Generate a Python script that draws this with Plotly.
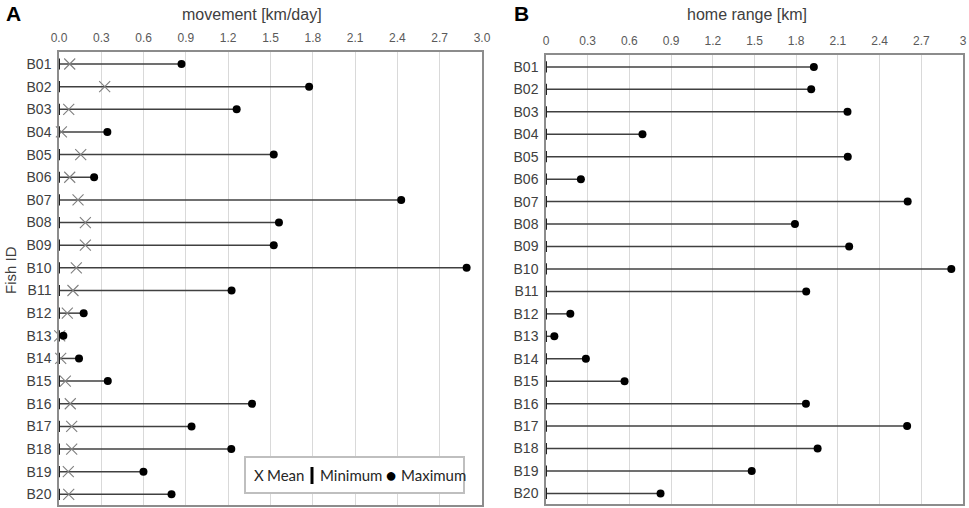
import plotly.graph_objects as go

fish = ["B%02d" % i for i in range(1, 21)]

# panel A: movement [km/day]
move_min = [0.0] * 20
move_mean = [0.076, 0.324, 0.069, 0.017, 0.154, 0.076, 0.135, 0.187, 0.187, 0.123,
             0.099, 0.059, 0.005, 0.012, 0.045, 0.080, 0.090, 0.090, 0.066, 0.069]
move_max = [0.869, 1.774, 1.260, 0.343, 1.523, 0.249, 2.427, 1.560, 1.523, 2.891,
            1.224, 0.175, 0.031, 0.142, 0.346, 1.369, 0.940, 1.222, 0.599, 0.798]

# panel B: home range [km]
hr_min = [0.0] * 20
hr_max = [1.927, 1.908, 2.169, 0.694, 2.171, 0.251, 2.602, 1.791, 2.181, 2.916,
          1.872, 0.175, 0.060, 0.287, 0.565, 1.870, 2.598, 1.954, 1.480, 0.824]

W, H = 969, 508
FONT = "Liberation Sans, Arial, sans-serif"
LEG_FONT = "Lato, Open Sans, sans-serif"
LINE_COL = "#404040"


def seg(lo, hi):
    xs, ys = [], []
    for a, b, f in zip(lo, hi, fish):
        xs += [a, b, None]
        ys += [f, f, None]
    return xs, ys


fig = go.Figure()

# panel A
xs, ys = seg(move_min, move_max)
fig.add_trace(go.Scatter(x=xs, y=ys, mode="lines", line=dict(color=LINE_COL, width=1.5),
                         hoverinfo="skip", xaxis="x", yaxis="y"))
fig.add_trace(go.Scatter(x=move_mean, y=fish, mode="markers", name="Mean", cliponaxis=False,
                         marker=dict(symbol="x-thin", size=11, line=dict(color="#808080", width=1.1)),
                         xaxis="x", yaxis="y"))
fig.add_trace(go.Scatter(x=move_min, y=fish, mode="markers", name="Minimum", cliponaxis=False,
                         marker=dict(symbol="line-ns", size=8, line=dict(color="#202020", width=2)),
                         xaxis="x", yaxis="y"))
fig.add_trace(go.Scatter(x=move_max, y=fish, mode="markers", name="Maximum", cliponaxis=False,
                         marker=dict(symbol="circle", size=8, color="black"),
                         xaxis="x", yaxis="y"))

# panel B
xs, ys = seg(hr_min, hr_max)
fig.add_trace(go.Scatter(x=xs, y=ys, mode="lines", line=dict(color=LINE_COL, width=1.5),
                         hoverinfo="skip", xaxis="x2", yaxis="y2"))
fig.add_trace(go.Scatter(x=hr_min, y=fish, mode="markers", cliponaxis=False,
                         marker=dict(symbol="line-ns", size=8, line=dict(color="#202020", width=2)),
                         xaxis="x2", yaxis="y2"))
fig.add_trace(go.Scatter(x=hr_max, y=fish, mode="markers", cliponaxis=False,
                         marker=dict(symbol="circle", size=8, color="black"),
                         xaxis="x2", yaxis="y2"))

xcommon = dict(side="top", showgrid=True, gridcolor="#d9d9d9", gridwidth=1,
               showline=True, linecolor="#8c8c8c", linewidth=1.5, mirror=True,
               zeroline=False, ticks="", automargin=False, ticklabelstandoff=3,
               tickfont=dict(family=FONT, size=12, color="#595959"), dtick=0.3)
ycommon = dict(type="category", categoryorder="array", categoryarray=fish,
               autorange=False, range=[19.47, -0.53], showgrid=False, automargin=False,
               showline=True, linecolor="#8c8c8c", linewidth=1.5, mirror=True,
               ticks="", ticklabelstandoff=3, tickfont=dict(family=FONT, size=14, color="#404040"))


def paper_text(text, x, y, size, color="#404040", family=FONT, xanchor="center", angle=0):
    return dict(text=text, x=x / W, y=1 - y / H, xref="paper", yref="paper",
                xanchor=xanchor, yanchor="middle", textangle=angle, showarrow=False,
                font=dict(family=family, size=size, color=color))


annotations = [
    paper_text("<b>A</b>", 13, 14, 21, "black"),
    paper_text("<b>B</b>", 521, 14, 21, "black"),
    paper_text("movement [km/day]", 252, 15, 16),
    paper_text("home range [km]", 747, 15, 16),
    paper_text("Fish ID", 10, 270, 15, angle=-90),
    # hand-made legend inside panel A, like the original
    paper_text("X", 252, 475, 15, "#262626", LEG_FONT, "left"),
    paper_text("Mean", 265, 475, 15, "#262626", LEG_FONT, "left"),
    paper_text("Minimum", 318, 475, 15, "#262626", LEG_FONT, "left"),
    paper_text("\u25cf", 391, 475, 20, "black", FONT),
    paper_text("Maximum", 399, 475, 15, "#262626", LEG_FONT, "left"),
]

fig.update_layout(
    width=W, height=H,
    margin=dict(l=0, r=0, t=0, b=0, autoexpand=False),
    paper_bgcolor="white", plot_bgcolor="white",
    showlegend=False,
    font=dict(family=FONT, color="#404040"),
    xaxis=dict(xcommon, domain=[59 / W, 482 / W], range=[0, 3.0], tickformat=".1f"),
    yaxis=dict(ycommon, domain=[1 - 505 / H, 1 - 52 / H], anchor="x"),
    xaxis2=dict(xcommon, domain=[546 / W, 963 / W], range=[0, 3], tickvals=[0, 0.3, 0.6, 0.9, 1.2, 1.5, 1.8, 2.1, 2.4, 2.7, 3],
                ticktext=["0", "0.3", "0.6", "0.9", "1.2", "1.5", "1.8", "2.1", "2.4", "2.7", "3"], anchor="y2"),
    yaxis2=dict(ycommon, domain=[1 - 504 / H, 1 - 55 / H], anchor="x2"),
    shapes=[
        dict(type="rect", xref="paper", yref="paper", x0=245 / W, x1=464 / W,
             y0=1 - 493 / H, y1=1 - 457 / H, line=dict(color="#bfbfbf", width=2),
             fillcolor="white", layer="above"),
        dict(type="line", xref="paper", yref="paper", x0=312 / W, x1=312 / W,
             y0=1 - 484 / H, y1=1 - 467 / H, line=dict(color="black", width=3), layer="above"),
    ],
    annotations=annotations,
)

fig.write_html("out.html", config={"displayModeBar": False},
               post_script="document.body.style.margin='0';")
